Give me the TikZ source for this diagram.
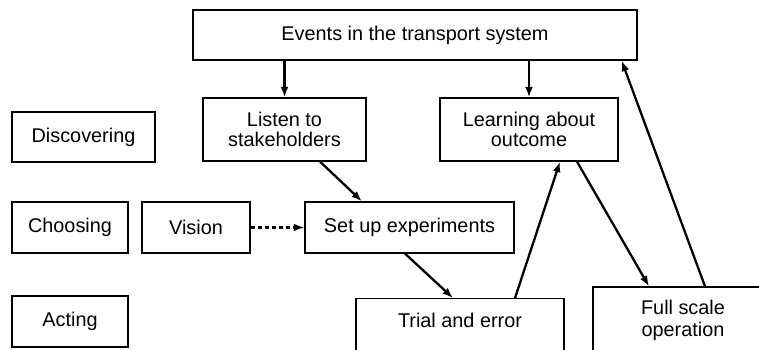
\documentclass[tikz,border=0pt]{standalone}
\usepackage{fontspec}
\setmainfont{Liberation Sans}
\usetikzlibrary{calc,arrows.meta}

\begin{document}
\begin{tikzpicture}[x=0.02cm,y=-0.02cm]
    \tikzset{%
        >={Latex[length=6pt,width=4.5pt]}, % solid arrow heads
        box/.style={draw,line width=0.7pt,align=center,inner sep=0pt,
                font=\fontsize{11.3}{11}\selectfont},
        flow/.style={->,line width=1.3pt},
        hint/.style={->,line width=1.2pt,dash pattern=on 2.5pt off 1.5pt}%
    }
    %% some definitions

    \def\u{0.02cm} % one unit of the grid
    \def\rowH{51} % height of the one-line boxes

    %% page frame

    \path[use as bounding box] (0,0) rectangle (759,349);
    \clip (0,0) rectangle (759,349);

    %% stages on the left

    \node[box,minimum width=143*\u,minimum height=50*\u] (disc) at (83.5,137) {Discovering};
    \node[box,minimum width=116*\u,minimum height=\rowH*\u] (choose) at (70,227.5) {Choosing};
    \node[box,minimum width=116*\u,minimum height=\rowH*\u] (act) at (70,321.5) {Acting};

    %% process boxes

    \node[box,minimum width=444*\u,minimum height=50*\u] (events) at (415,35)
        {Events in the transport system};
    \node[box,minimum width=163*\u,minimum height=63*\u] (listen) at (284.5,129.5)
        {Listen to\\stakeholders};
    \node[box,minimum width=178*\u,minimum height=63*\u] (learn) at (529,129.5)
        {Learning about\\outcome};
    \node[box,minimum width=108*\u,minimum height=\rowH*\u] (vision) at (196,227.5) {Vision};
    \node[box,minimum width=209*\u,minimum height=\rowH*\u] (setup) at (409.5,227.5)
        {Set up experiments};
    % these two run off the bottom edge
    \node[box,minimum width=208*\u,text height=16.5pt,text depth=40pt,anchor=north]
        (trial) at (460,298) {Trial and error};
    \node[box,minimum width=180*\u,minimum height=66*\u,
        font=\fontsize{11.3}{12.5}\selectfont] (full) at (683,320) {Full scale\\operation};

    %% connectors

    \draw[flow] (events.south -| listen.north) -- (listen.north);
    \draw[flow] (events.south -| learn.north) -- (learn.north);
    \draw[flow] ($(listen.south)+(35.5,0)$) -- ($(setup.north)+(-47.5,0)$);
    \draw[hint] (vision.east) -- (setup.west);
    \draw[flow] ($(setup.south)+(-4.5,0)$) -- ($(trial.north)+(-7,0)$);
    \draw[flow] ($(trial.north)+(55,0)$) -- ($(learn.south)+(31,0)$);
    \draw[flow] ($(learn.south)+(48,0)$) -- ($(full.north)+(-34,0)$);
    \draw[flow] ($(full.north)+(22,0)$) -- ($(events.south east)+(-16,0)$);
\end{tikzpicture}
\end{document}
